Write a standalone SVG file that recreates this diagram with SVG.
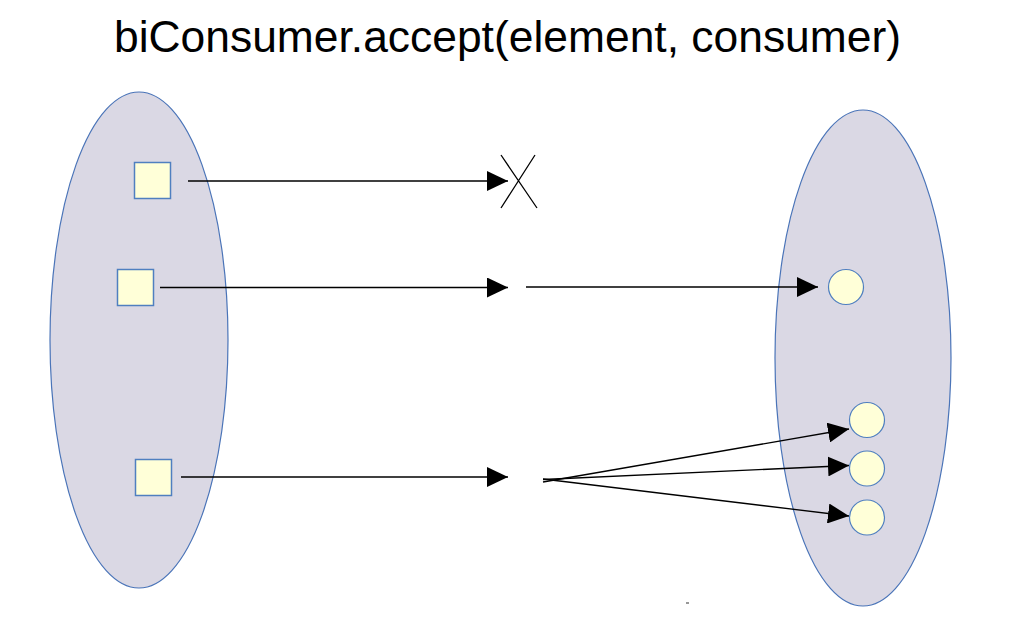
<svg xmlns="http://www.w3.org/2000/svg" width="1023" height="624" viewBox="0 0 1023 624">
<style>
.set{fill:#dad8e4;stroke:#4a74b8;stroke-width:1.2}
.sq{fill:#ffffd8;stroke:#4f7fc0;stroke-width:1.5}
.ci{fill:#ffffd8;stroke:#4f7fc0;stroke-width:1.2}
.ln{stroke:#000;stroke-width:1.3;fill:none}
.title{font-family:"Liberation Sans",Arial,sans-serif;font-size:44.4px;fill:#000}
</style>
<defs>
<marker id="ah" markerUnits="userSpaceOnUse" markerWidth="22" markerHeight="20" refX="21" refY="10" orient="auto">
<path d="M0,0 L21,10 L0,20 z" fill="#000"/>
</marker>
</defs>
<rect width="1023" height="624" fill="#fff"/>
<text class="title" x="507.5" y="52" text-anchor="middle">biConsumer.accept(element, consumer)</text>
<g id="set-left"><ellipse class="set" cx="139" cy="340" rx="89" ry="248"/></g>
<g id="set-right"><ellipse class="set" cx="863" cy="358" rx="88" ry="248"/></g>
<g id="el1"><rect class="sq" x="134.5" y="162.5" width="36" height="36"/></g>
<g id="el2"><rect class="sq" x="117.5" y="269.5" width="36" height="36"/></g>
<g id="el3"><rect class="sq" x="135.5" y="459.5" width="36" height="36"/></g>
<g id="r1"><circle class="ci" cx="846" cy="287" r="17.5"/></g>
<g id="r2"><circle class="ci" cx="867" cy="420" r="17.5"/></g>
<g id="r3"><circle class="ci" cx="867" cy="468.5" r="17.5"/></g>
<g id="r4"><circle class="ci" cx="867" cy="517.5" r="17.5"/></g>
<g id="x-mark"><path class="ln" d="M501,155 L537,208 M535,155 L501,208" stroke-width="1"/></g>
<g id="connectors">
<line class="ln" x1="188" y1="181" x2="508" y2="181" marker-end="url(#ah)"/>
<line class="ln" x1="160" y1="287.5" x2="508" y2="287.5" marker-end="url(#ah)"/>
<line class="ln" x1="526" y1="287" x2="818" y2="287" marker-end="url(#ah)"/>
<line class="ln" x1="181" y1="477" x2="508" y2="477" marker-end="url(#ah)"/>
<line class="ln" x1="543" y1="482" x2="849" y2="429" marker-end="url(#ah)"/>
<line class="ln" x1="543" y1="479.5" x2="849" y2="465.5" marker-end="url(#ah)"/>
<line class="ln" x1="543" y1="479" x2="849" y2="516" marker-end="url(#ah)"/>
</g>
<rect x="686" y="602.5" width="3" height="1" fill="#333"/>
</svg>
